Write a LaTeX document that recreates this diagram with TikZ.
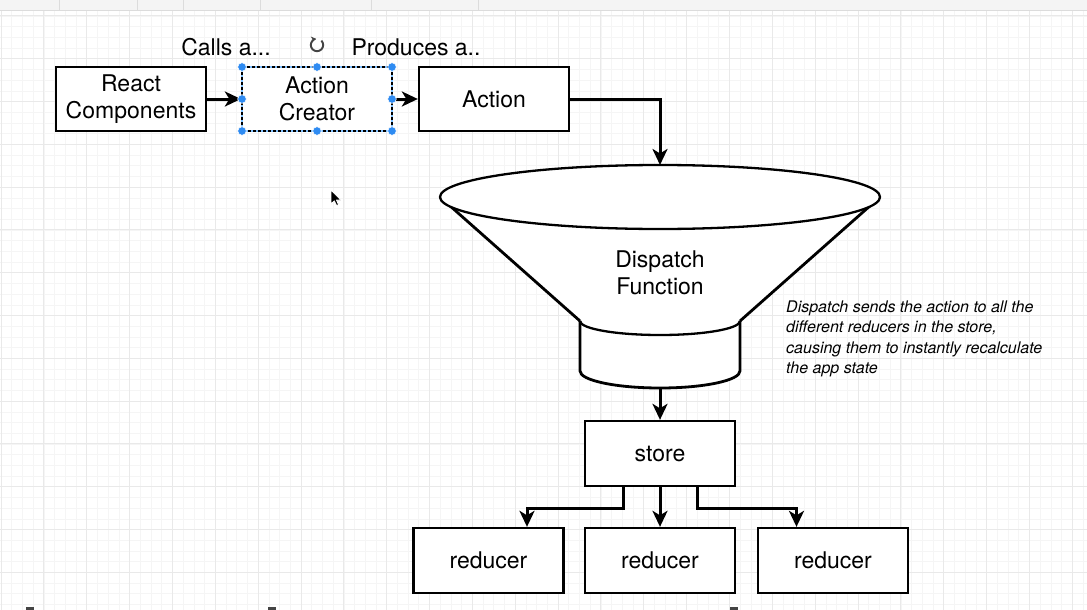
\documentclass[tikz,border=0pt]{standalone}
\usepackage{fontspec}
\setmainfont{TeX Gyre Heros}
\usetikzlibrary{arrows.meta,calc}
\definecolor{gridmajor}{HTML}{E9E9E9}
\definecolor{gridminor}{HTML}{F5F5F5}
\definecolor{selblue}{HTML}{2E8BF2}
\definecolor{sellight}{HTML}{7FC0FF}
\definecolor{barfill}{HTML}{F4F4F4}
\definecolor{barline}{HTML}{DCDCDC}
\definecolor{icongray}{HTML}{444444}
\newcommand\diaglbl{\fontsize{23}{27.5}\selectfont}
\newcommand\diagnote{\fontsize{16}{20.4}\selectfont\itshape}
\begin{document}
\begin{tikzpicture}[x=1pt,y=-1pt,
  box/.style={draw, line width=2.3pt, fill=white, minimum width=150pt, minimum height=64pt, inner sep=0pt, align=center, font=\diaglbl},
  conn/.style={line width=3pt, -{Stealth[length=16pt,width=15pt,inset=4.5pt]}},
  funnelline/.style={line width=2.8pt, line join=round},
  handle/.style={fill=selblue, draw=white, line width=0.6pt},
  lbl/.style={font=\diaglbl, inner sep=0pt}]
\useasboundingbox (0,0) rectangle (1087,610);
\fill[white] (0,0) rectangle (1087,610);
% grid
\foreach \i in {0,...,101} { \draw[gridminor, line width=0.6pt] ({1+10.7125*\i},10) -- ({1+10.7125*\i},610); }
\foreach \j in {0,...,55} { \draw[gridminor, line width=0.6pt] (0,{15.9+10.7*\j}) -- (1087,{15.9+10.7*\j}); }
\foreach \i in {0,...,25} { \draw[gridmajor, line width=0.9pt] ({1+42.85*\i},10) -- ({1+42.85*\i},610); }
\foreach \j in {0,...,13} { \draw[gridmajor, line width=0.9pt] (0,{15.9+42.8*\j}) -- (1087,{15.9+42.8*\j}); }
% top bar
\fill[barfill] (0,0) rectangle (1087,10);
\draw[barline, line width=1.2pt] (0,10.5) -- (1087,10.5);
\foreach \x in {59,137,183,260,371,478} { \draw[barline, line width=1pt] (\x,0) -- (\x,10); }
% bottom markers
\foreach \x in {30,272,734} { \fill[icongray] (\x-4,606.5) rectangle (\x+4,610); }

% top row
\node[box] (react) at (131,99) {React\\Components};
\node[box, draw=none] (creator) at (317,99) {Action\\Creator};
\node[box] (action) at (494,99) {Action};
\node[lbl] (calls) at (226,47) {Calls a...};
\node[lbl] (produces) at (416,47) {Produces a..};

% funnel
\fill[white] (440,197) -- (580,321) -- (580,371) arc[start angle=180, end angle=0, x radius=80, y radius=17] -- (740,321) -- (880,197) -- cycle;
\draw[funnelline] (440,197) -- (580,321);
\draw[funnelline] (880,197) -- (740,321);
\draw[line width=2.3pt] (580,321) arc[start angle=180, end angle=0, x radius=80, y radius=14];
\draw[funnelline] (580,321) -- (580,371) arc[start angle=180, end angle=0, x radius=80, y radius=17] -- (740,321);
\draw[line width=2.3pt, fill=white] (660,197) ellipse [x radius=220, y radius=32];
\node[lbl, align=center] (dispatch) at (660,273) {Dispatch\\Function};
\coordinate (ftop) at (660,165);
\coordinate (fbot) at (660,388);

% store and reducers
\node[box, minimum height=65pt] (store) at (660,453.5) {store};
\node[box, minimum height=65pt] (r1) at (488.5,560.5) {reducer};
\node[box, minimum height=65pt] (r2) at (660,560.5) {reducer};
\node[box, minimum height=65pt] (r3) at (833,560.5) {reducer};

% note
\node[anchor=north west, inner sep=0pt, align=left, font=\diagnote] (note) at (786,300.5) {Dispatch sends the action to all the\\different reducers in the store,\\causing them to instantly recalculate\\the app state};

% connectors
\draw[conn] (react) -- (creator);
\draw[conn] (creator) -- (action);
\draw[conn] (action.east) -| (ftop);
\draw[conn] (fbot) -- (store);
\draw[conn] (store) -- (r2);
\draw[conn] ([xshift=-37pt]store.south) -- ++(0,21) -| ([xshift=38.5pt]r1.north);
\draw[conn] ([xshift=37pt]store.south) -- ++(0,21) -| ([xshift=-36.5pt]r3.north);

% selection of Action Creator
\draw[sellight, line width=1.3pt] (242,67) rectangle (392,131);
\draw[black, line width=1.3pt, dash pattern=on 3pt off 2pt] (242,67) rectangle (392,131);
\foreach \p in {(242,67),(317,67),(392,67),(242,99),(392,99),(242,131),(317,131),(392,131)} { \filldraw[handle] \p circle (4.3); }

% rotate icon
\begin{scope}[shift={(317,45)}, yscale=-1]
  \draw[icongray, line width=1.9pt, -{Stealth[length=5pt,width=6pt]}] (45:6.2) arc[start angle=45, end angle=-262, radius=6.2];
\end{scope}

% cursor
\begin{scope}[shift={(331,190)}]
  \filldraw[fill=black, draw=white, line width=0.8pt, line join=round] (0,0) -- (0,14) -- (3.3,10.8) -- (5.6,15.6) -- (7.6,14.7) -- (5.4,10) -- (9.8,10) -- cycle;
\end{scope}
\end{tikzpicture}
\end{document}
